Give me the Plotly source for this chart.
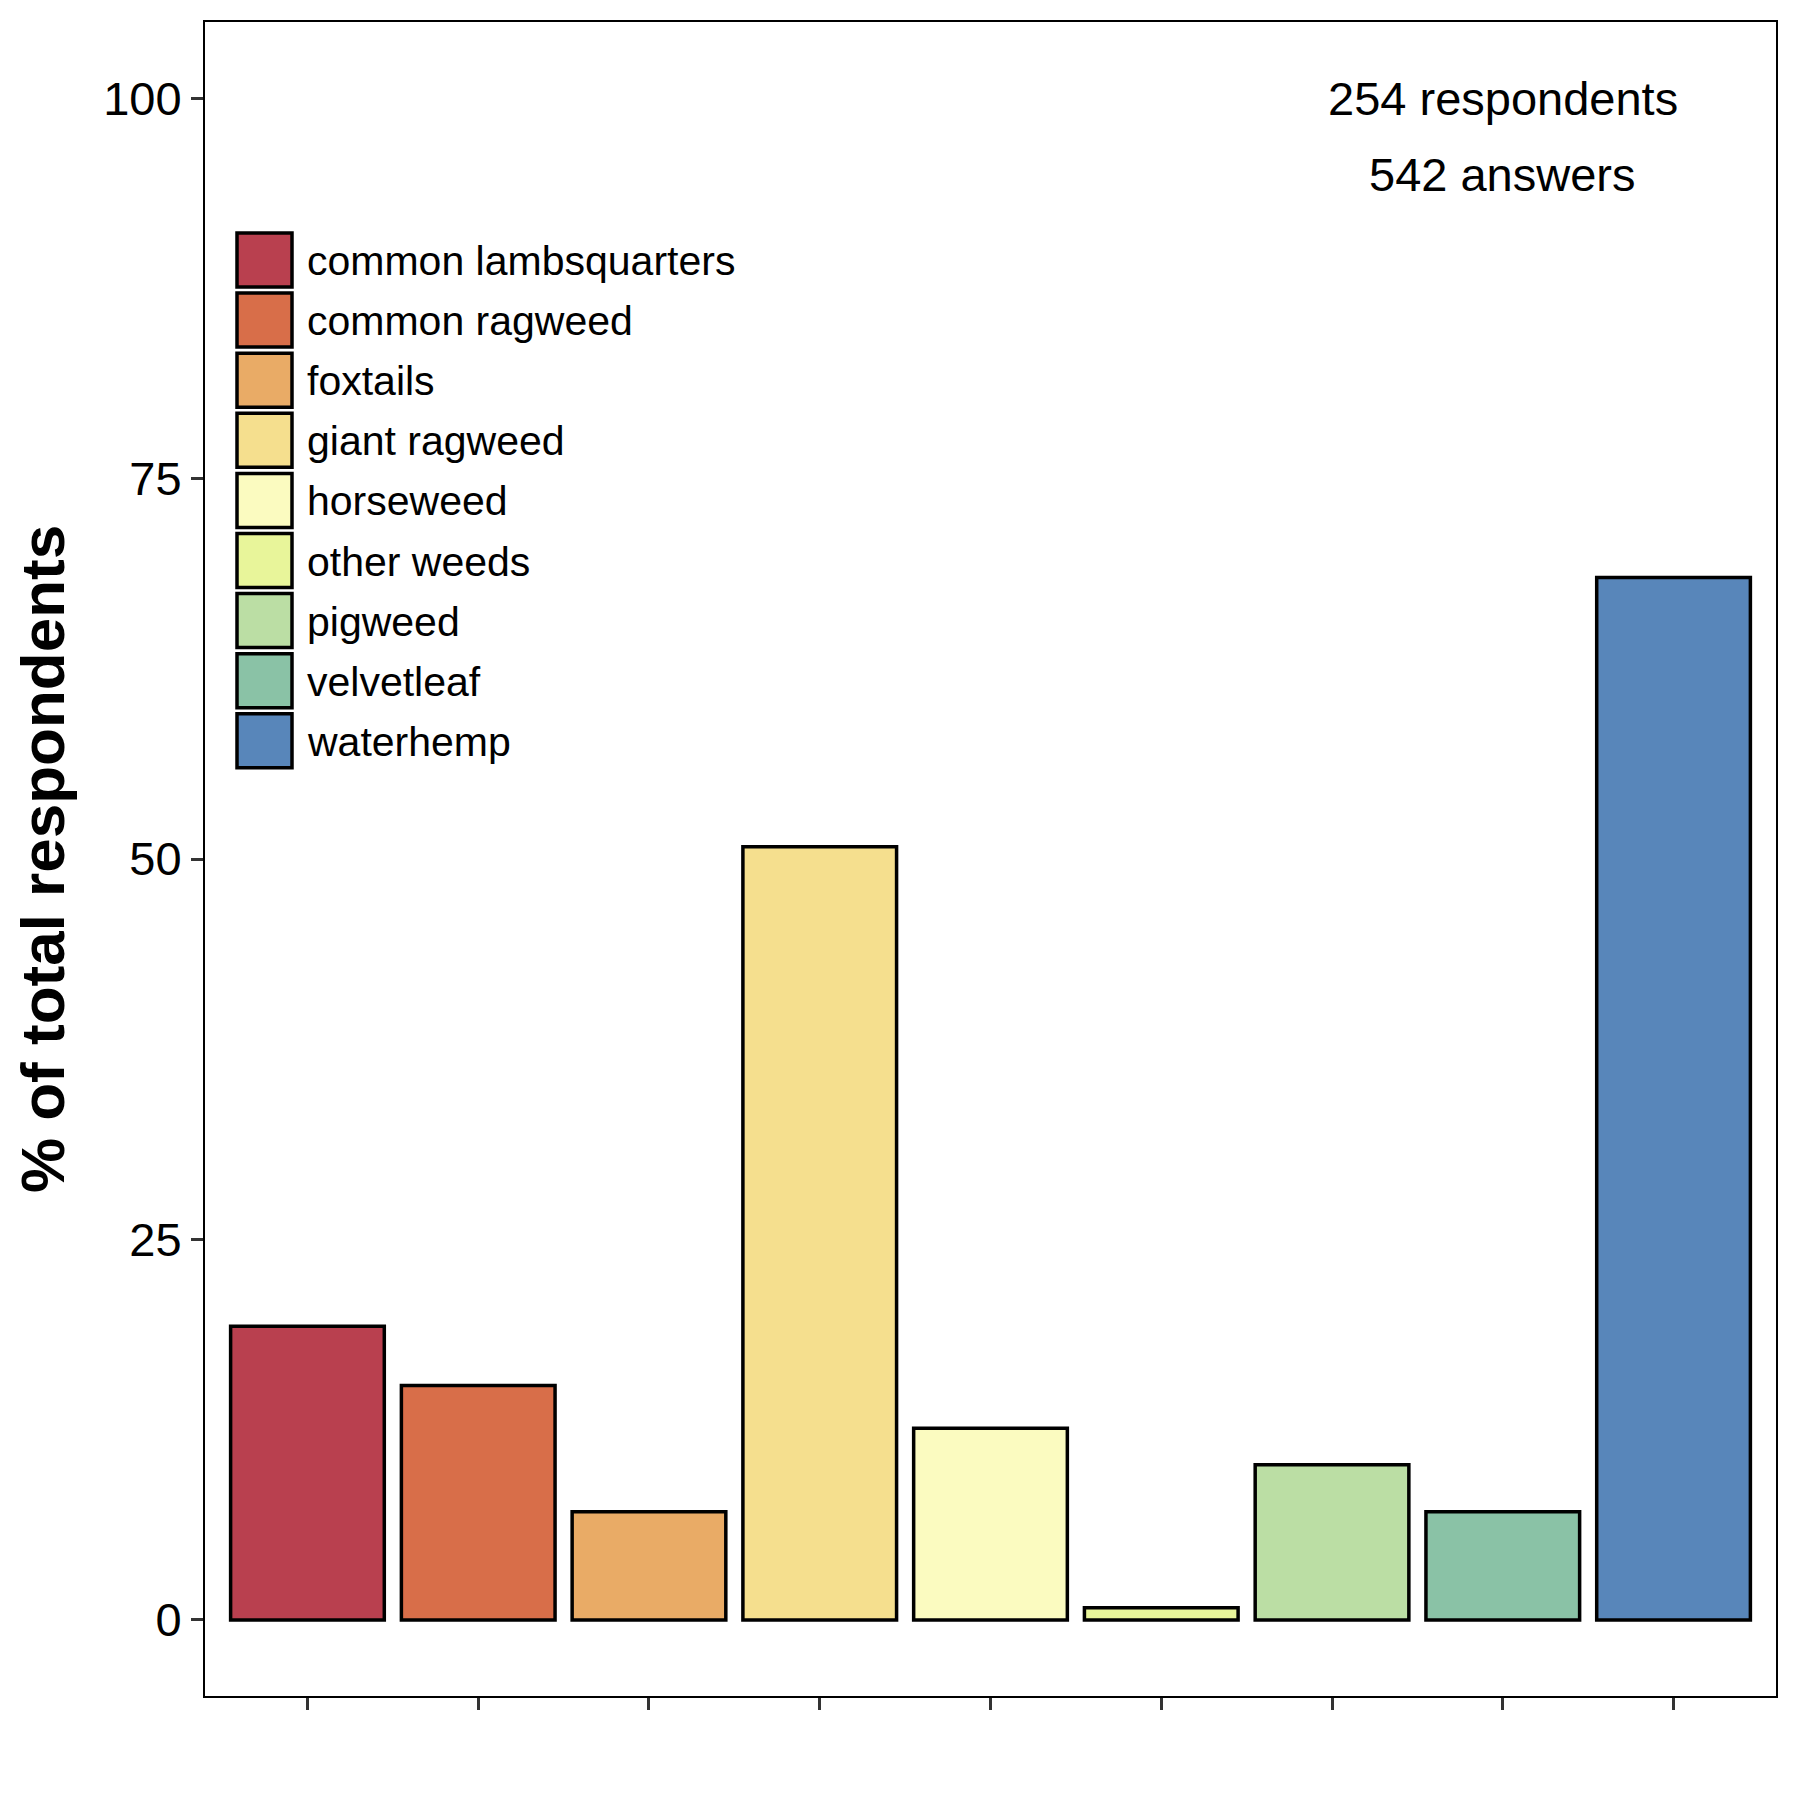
import plotly.graph_objects as go

# ---- data ----
categories = ["common lambsquarters", "common ragweed", "foxtails", "giant ragweed",
              "horseweed", "other weeds", "pigweed", "velvetleaf", "waterhemp"]
percent = [19.3, 15.4, 7.1, 50.8, 12.6, 0.8, 10.2, 7.1, 68.5]
colors = ["#B9404F", "#D86E49", "#E9AB66", "#F5DF8E", "#FBFBC0",
          "#E8F59A", "#BBDEA4", "#8AC2A6", "#5886BA"]
y_ticks = [0, 25, 50, 75, 100]
note_lines = ["254 respondents", "542 answers"]
note_y = [100, 95]
note_x = "velvetleaf"

FONT = "Liberation Sans, Arial, Helvetica, sans-serif"
W, H = 1800, 1800
OFF = 8  # page body margin offset
ML, MR, MT, MB = 205 - OFF, 24 + OFF, 22 - OFF, 104 + OFF
PW, PH = W - ML - MR, H - MT - MB


def px_to_paper(x, y):
    # x, y are page pixel coordinates
    x -= OFF
    y -= OFF
    return (x - ML) / PW, (H - MB - y) / PH


fig = go.Figure()
fig.add_trace(go.Bar(
    x=categories, y=percent, width=0.9,
    marker=dict(color=colors, line=dict(color="black", width=3.5)),
    showlegend=False,
))

shapes = []
annotations = []
# manual legend (large square keys like ggplot)
key_x0, key_x1 = 237, 292
row0, pitch, key_h = 233, 60.1, 54
for i, (cat, col) in enumerate(zip(categories, colors)):
    y0 = row0 + i * pitch
    x0p, y0p = px_to_paper(key_x0, y0)
    x1p, y1p = px_to_paper(key_x1, y0 + key_h)
    shapes.append(dict(type="rect", xref="paper", yref="paper",
                       x0=x0p, x1=x1p, y0=y1p, y1=y0p,
                       fillcolor=col, line=dict(color="black", width=3.5)))
    tx, ty = px_to_paper(305, y0 + key_h / 2 + 1)
    annotations.append(dict(xref="paper", yref="paper", x=tx, y=ty,
                            text=cat, showarrow=False, xanchor="left", yanchor="middle",
                            font=dict(family=FONT, size=41, color="black")))

for txt, yy in zip(note_lines, note_y):
    annotations.append(dict(xref="x", yref="y", x=note_x, y=yy, text=txt,
                            showarrow=False, xanchor="center", yanchor="middle",
                            font=dict(family=FONT, size=47, color="black")))

fig.update_layout(
    width=W, height=H,
    margin=dict(l=ML, r=MR, t=MT, b=MB, pad=0),
    paper_bgcolor="white", plot_bgcolor="white",
    font=dict(family=FONT, color="black"),
    shapes=shapes, annotations=annotations,
    bargap=0.1,
)
fig.update_xaxes(
    type="category", categoryorder="array", categoryarray=categories,
    range=[-0.6, len(categories) - 0.4],
    showticklabels=False, ticks="outside", ticklen=12, tickwidth=2.5, tickcolor="#333333",
    showline=True, linecolor="black", linewidth=2, mirror=True, showgrid=False, zeroline=False,
)
fig.update_yaxes(
    range=[-5, 105], tickvals=y_ticks, ticktext=[str(v) for v in y_ticks],
    ticks="outside", ticklen=12, tickwidth=2.5, tickcolor="#333333",
    tickfont=dict(family=FONT, size=47, color="black"),
    showline=True, linecolor="black", linewidth=2, mirror=True, showgrid=False, zeroline=False,
    title=dict(text="<b>% of total respondents</b>", standoff=22,
               font=dict(family=FONT, size=62, color="black")),
)

fig.write_html("out.html")
